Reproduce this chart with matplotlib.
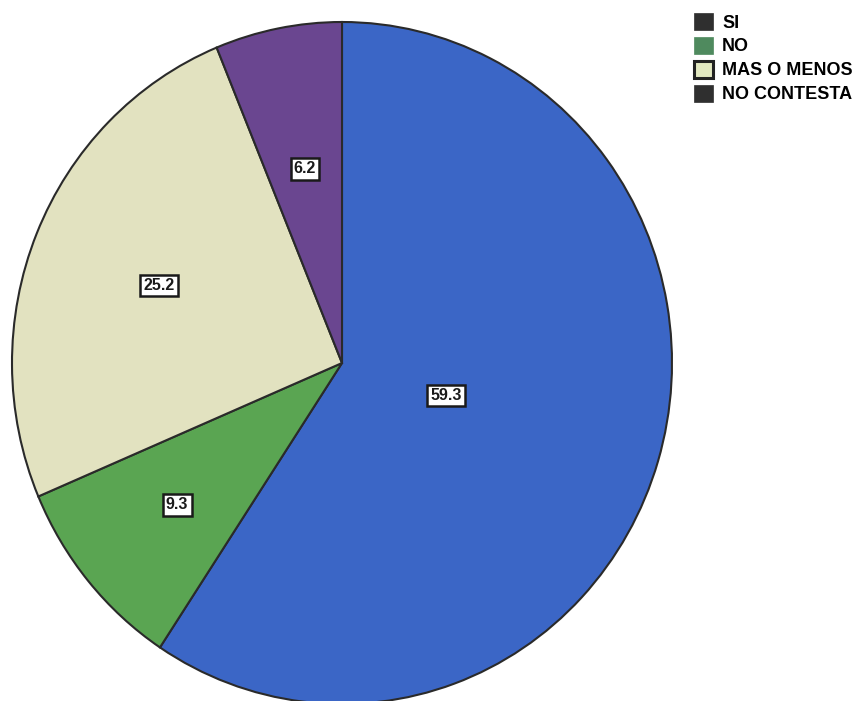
import matplotlib
matplotlib.use("Agg")
import matplotlib.pyplot as plt
import numpy as np
from matplotlib.patches import Patch

categories = ["SI", "NO", "MAS O MENOS", "NO CONTESTA"]
values = [59.3, 9.3, 25.2, 6.2]
wedge_colors = ["#3b66c6", "#5aa552", "#e2e2c0", "#6a4690"]
legend_colors = ["#2f2f2f", "#4f8a5e", "#e2e8c0", "#2f2f2f"]
label_radius = [0.33, 0.65, 0.60, 0.58]

W, H = 867, 701
cx, cy = 342, 363      # pie centre in pixels (from top-left)
rx, ry = 330, 341      # slightly taller than wide

fig = plt.figure(figsize=(W / 100, H / 100), dpi=100)
ax = fig.add_axes([0, 0, 1, 1])

wedges, _ = ax.pie(values, colors=wedge_colors, startangle=90, counterclock=False,
                   wedgeprops=dict(edgecolor="#2a2a2a", linewidth=1.5))

ax.set_aspect("auto")
ax.set_xlim(-cx / rx, (W - cx) / rx)
ax.set_ylim(-(H - cy) / ry, cy / ry)
ax.axis("off")

# value boxes along each wedge's bisector
for w, v, r in zip(wedges, values, label_radius):
    ang = np.deg2rad((w.theta1 + w.theta2) / 2)
    ax.text(r * np.cos(ang), r * np.sin(ang), f"{v:.1f}", ha="center", va="center",
            fontsize=11.5, fontweight="bold", family="Liberation Sans", color="#1a1a1a",
            bbox=dict(boxstyle="square,pad=0.2", facecolor="white",
                      edgecolor="#1a1a1a", linewidth=1.8))

handles = [Patch(facecolor=c, edgecolor="#222222" if i == 2 else c,
                 linewidth=2.2 if i == 2 else 0.5)
           for i, c in enumerate(legend_colors)]
fig.legend(handles, categories, loc="upper left", bbox_to_anchor=(694 / W, 1 - 13 / H),
           frameon=False, handlelength=1.05, handleheight=1.05, handletextpad=0.5,
           labelspacing=0.3, borderaxespad=0, borderpad=0,
           prop=dict(family="Liberation Sans", weight="bold", size=13))

fig.savefig("out.png", dpi=100, facecolor="white")
